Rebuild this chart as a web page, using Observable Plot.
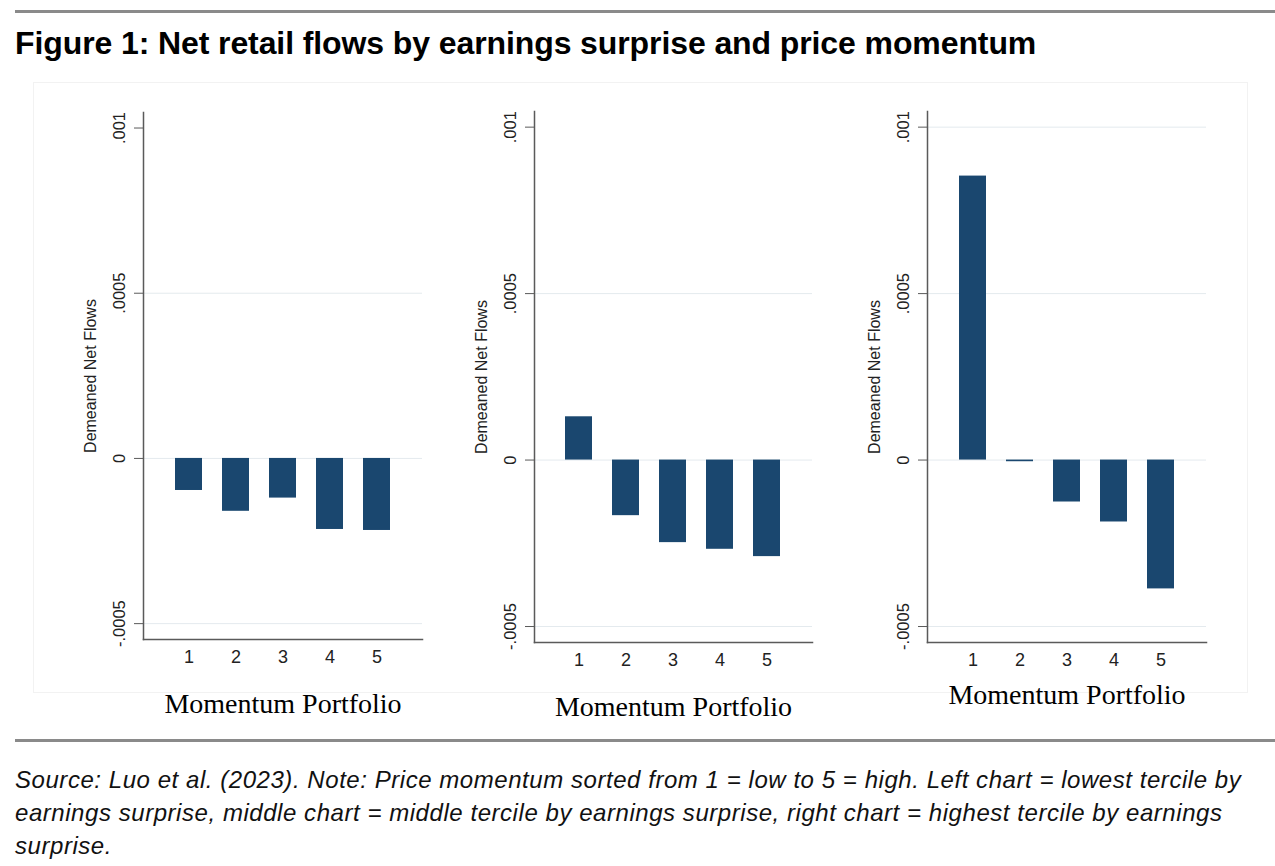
<!DOCTYPE html>
<html>
<head>
<meta charset="utf-8">
<script src="https://cdn.jsdelivr.net/npm/d3@7"></script>
<script src="https://cdn.jsdelivr.net/npm/@observablehq/plot@0.6"></script>
<style>
  html, body { margin: 0; padding: 0; background: #fff; }
  #page { position: relative; width: 1275px; height: 866px; overflow: hidden; background: #fff; }
  .rule { position: absolute; left: 15px; right: 0; height: 3px; background: #8a8a8a; }
  #title { position: absolute; left: 15px; top: 27px; font: bold 32px/32px "Liberation Sans", Arial, sans-serif; color: #000; white-space: nowrap; letter-spacing: -0.1px; }
  #box { position: absolute; left: 33px; top: 82px; width: 1215px; height: 611px; border: 1px solid #f2f2f2; box-sizing: border-box; }
  .panel { position: absolute; top: 90px; }
  #caption { position: absolute; left: 15px; top: 763px; font: italic 24px/33px "Liberation Sans", Arial, sans-serif; letter-spacing: 0.55px; color: #111; white-space: nowrap; }
</style>
</head>
<body>
<div id="page">
  <div class="rule" style="top:10px"></div>
  <div id="title">Figure 1: Net retail flows by earnings surprise and price momentum</div>
  <div id="box"></div>
  <div id="p1" class="panel" style="left:40px"></div>
  <div id="p2" class="panel" style="left:430px"></div>
  <div id="p3" class="panel" style="left:823px"></div>
  <div class="rule" style="top:739px"></div>
  <div id="caption">Source: Luo et al. (2023). Note: Price momentum sorted from 1 = low to 5 = high. Left chart = lowest tercile by<br>earnings surprise, middle chart = middle tercile by earnings surprise, right chart = highest tercile by earnings<br>surprise.</div>
</div>
<script>
// ---- data ----
const portfolios = [1, 2, 3, 4, 5];
const lowSurprise  = [-0.000097, -0.00016, -0.00012, -0.000215, -0.000218];
const midSurprise  = [0.00013, -0.000167, -0.000248, -0.000268, -0.00029];
const highSurprise = [0.000853, -0.000005, -0.000126, -0.000186, -0.000387];
const yTicks = [0.001, 0.0005, 0, -0.0005];
const yTickLabels = [".001", ".0005", "0", "-.0005"];
const yTitle = "Demeaned Net Flows";
const xTitle = "Momentum Portfolio";

const navy = "#1a476f";
const axisColor = "#5a5a5a";
const yDomain = [-0.000548, 0.001047];

function panel(values, cfg) {
  const data = portfolios.map((m, i) => ({m, v: values[i]}));
  return Plot.plot({
    width: cfg.width,
    height: 640,
    marginLeft: cfg.marginLeft,
    marginRight: 10,
    marginTop: cfg.marginTop,
    marginBottom: cfg.marginBottom,
    style: {background: "transparent", fontFamily: "'Liberation Sans', Arial, sans-serif", color: "#222"},
    x: {type: "band", domain: portfolios, paddingInner: 0.42, paddingOuter: 0.62},
    y: {domain: yDomain},
    marks: [
      Plot.gridY(cfg.gridTicks, {stroke: "#e4eaee", strokeOpacity: 1, strokeWidth: 1}),
      Plot.barY(data, {x: "m", y: "v", fill: navy}),
      Plot.frame({anchor: "left", stroke: axisColor, strokeWidth: 1.5}),
      Plot.frame({anchor: "bottom", stroke: axisColor, strokeWidth: 1.5}),
      Plot.axisY({ticks: yTicks, tickSize: 9, tickPadding: 10, tickRotate: -90,
        tickFormat: d => yTickLabels[yTicks.indexOf(d)], fontSize: 16.5, label: null, stroke: axisColor}),
      Plot.axisX({tickSize: 0, tickPadding: 11, fontSize: 18, label: null}),
      Plot.text([yTitle], {frameAnchor: "left", rotate: -90, dx: -53, lineAnchor: "middle", textAnchor: "middle", fontSize: 16}),
      Plot.text([xTitle], {frameAnchor: "bottom", dy: cfg.labelDy, lineAnchor: "bottom", fontSize: 28,
        fontFamily: "'Liberation Serif', 'Times New Roman', serif", fill: "#000"})
    ]
  });
}

document.getElementById("p1").append(panel(lowSurprise,
  {width: 392, marginLeft: 103, marginTop: 22, marginBottom: 91, labelDy: 73, gridTicks: [0.0005, 0, -0.0005]}));
document.getElementById("p2").append(panel(midSurprise,
  {width: 392, marginLeft: 104, marginTop: 21, marginBottom: 88, labelDy: 73, gridTicks: [0.0005, 0, -0.0005]}));
document.getElementById("p3").append(panel(highSurprise,
  {width: 393, marginLeft: 104, marginTop: 21, marginBottom: 88, labelDy: 61, gridTicks: [0.001, 0.0005, 0, -0.0005]}));
</script>
</body>
</html>
